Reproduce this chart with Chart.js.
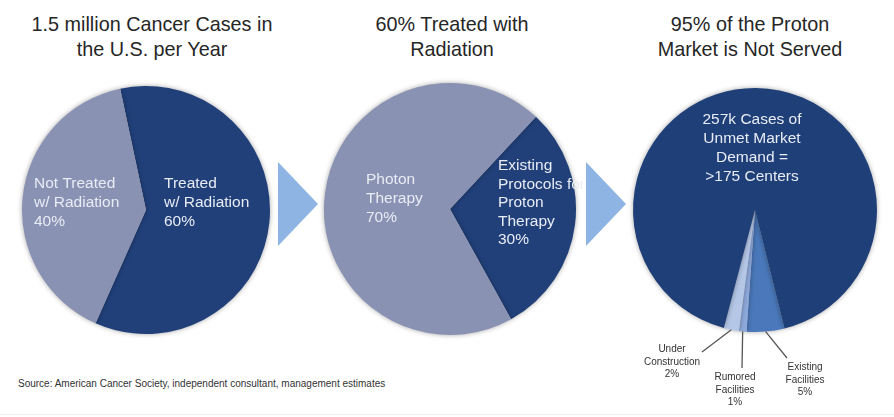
<!DOCTYPE html>
<html>
<head>
<meta charset="utf-8">
<script src="https://cdn.jsdelivr.net/npm/chart.js@4/dist/chart.umd.min.js"></script>
<style>
  body { margin: 0; background: #fff; font-family: 'Liberation Sans', Arial, sans-serif; }
  #page { position: relative; width: 894px; height: 417px; overflow: hidden; background: #fff; }
  .title { position: absolute; top: 12px; width: 300px; text-align: center; font-size: 19.8px; line-height: 25px; color: #262626; }
  .arrow { position: absolute; width: 40px; height: 84px; background: #8eb4e3; clip-path: polygon(0 0, 100% 50%, 0 100%); }
  canvas { position: absolute; }
  #source { position: absolute; left: 18px; top: 378px; font-size: 10px; color: #333; white-space: nowrap; }
  #rule { position: absolute; left: 0; right: 0; top: 414px; height: 1px; background: #eeeeee; }
</style>
</head>
<body>
<div id="page">
  <div class="title" style="left:2px">1.5 million Cancer Cases in<br>the U.S. per Year</div>
  <div class="title" style="left:302px">60% Treated with<br>Radiation</div>
  <div class="title" style="left:600px">95% of the Proton<br>Market is Not Served</div>

  <canvas id="pie1" width="260" height="260" style="left:16px;top:80px"></canvas>
  <canvas id="pie2" width="264" height="264" style="left:318px;top:77px"></canvas>
  <canvas id="pie3" width="294" height="357" style="left:600px;top:60px"></canvas>

  <div class="arrow" style="left:278px;top:162px"></div>
  <div class="arrow" style="left:586px;top:162px"></div>

  <div id="source">Source: American Cancer Society, independent consultant, management estimates</div>
  <div id="rule"></div>
</div>

<script>
// chart 1: all cancer cases
const radiationLabels = ['Treated w/ Radiation', 'Not Treated w/ Radiation'];
const radiationShare = [60, 40];

// chart 2: radiation cases
const therapyLabels = ['Existing Protocols for Proton Therapy', 'Photon Therapy'];
const therapyShare = [30, 70];

// chart 3: proton market
const marketLabels = ['Existing Facilities', 'Rumored Facilities', 'Under Construction', 'Unmet Market Demand'];
const marketShare = [5, 1, 2, 92];

const DARK = '#21407a';
const GREY = '#8a92b4';
const INSIDE = '#e8ecf4';

// soft edge shadow like the original slide
const shadowPlugin = {
  id: 'pieShadow',
  beforeDatasetsDraw(chart) {
    const ctx = chart.ctx;
    ctx.save();
    ctx.shadowColor = 'rgba(0, 0, 0, 0.35)';
    ctx.shadowBlur = 5;
  },
  afterDatasetsDraw(chart) {
    chart.ctx.restore();
  }
};

// text blocks placed relative to the pie centre, optional leader line to a slice
function notesPlugin(notes) {
  return {
    id: 'pieNotes',
    afterDraw(chart) {
      const ctx = chart.ctx;
      const arcs = chart.getDatasetMeta(0).data;
      const cx = arcs[0].x, cy = arcs[0].y;
      notes.forEach(n => {
        ctx.save();
        if (typeof n.arc === 'number') {
          const a = arcs[n.arc];
          const mid = (a.startAngle + a.endAngle) / 2;
          ctx.strokeStyle = '#555';
          ctx.lineWidth = 1.3;
          ctx.beginPath();
          ctx.moveTo(cx + Math.cos(mid) * a.outerRadius, cy + Math.sin(mid) * a.outerRadius);
          ctx.lineTo(cx + n.lx, cy + n.ly);
          ctx.stroke();
        }
        ctx.fillStyle = n.color;
        ctx.font = n.size + "px 'Liberation Sans', Arial, sans-serif";
        ctx.textAlign = n.align;
        ctx.textBaseline = 'alphabetic';
        n.lines.forEach((line, i) => {
          ctx.fillText(line, cx + n.dx, cy + n.dy + i * n.step);
        });
        ctx.restore();
      });
    }
  };
}

function makePie(id, labels, values, colors, rotation, padding, notes) {
  return new Chart(document.getElementById(id), {
    type: 'pie',
    data: {
      labels: labels,
      datasets: [{
        data: values,
        backgroundColor: colors,
        borderWidth: 0
      }]
    },
    options: {
      responsive: false,
      animation: false,
      devicePixelRatio: 1,
      rotation: rotation,
      layout: { padding: padding },
      plugins: {
        legend: { display: false },
        tooltip: { enabled: false }
      }
    },
    plugins: [shadowPlugin, notesPlugin(notes)]
  });
}

makePie('pie1', radiationLabels, radiationShare, [DARK, GREY], -12, 6, [
  { lines: ['Not Treated', 'w/ Radiation', '40%'], dx: -112, dy: -22, step: 19, align: 'left', size: 15.5, color: INSIDE },
  { lines: ['Treated', 'w/ Radiation', '60%'], dx: 18, dy: -22, step: 19, align: 'left', size: 15.5, color: INSIDE }
]);

makePie('pie2', therapyLabels, therapyShare, [DARK, GREY], 43, 6, [
  { lines: ['Photon', 'Therapy', '70%'], dx: -84, dy: -25, step: 19, align: 'left', size: 15.5, color: INSIDE },
  { lines: ['Existing', 'Protocols for', 'Proton', 'Therapy', '30%'], dx: 48, dy: -39, step: 18.5, align: 'left', size: 15.5, color: INSIDE }
]);

makePie('pie3', marketLabels, marketShare, ['#4a78ba', '#8ea9db', '#b4c7e7', '#1f3f78'], 166,
  { left: 33, right: 17, top: 28, bottom: 85 }, [
  { lines: ['257k Cases of', 'Unmet Market', 'Demand =', '>175 Centers'], dx: -3, dy: -86, step: 19, align: 'center', size: 15.5, color: INSIDE },
  { lines: ['Under', 'Construction', '2%'], dx: -83, dy: 142, step: 12.5, align: 'center', size: 10, color: '#333', arc: 2, lx: -53, ly: 142 },
  { lines: ['Rumored', 'Facilities', '1%'], dx: -20, dy: 170, step: 12.5, align: 'center', size: 10, color: '#333', arc: 1, lx: -13, ly: 158 },
  { lines: ['Existing', 'Facilities', '5%'], dx: 50, dy: 160, step: 12.5, align: 'center', size: 10, color: '#333', arc: 0, lx: 32, ly: 148 }
]);
</script>
</body>
</html>
